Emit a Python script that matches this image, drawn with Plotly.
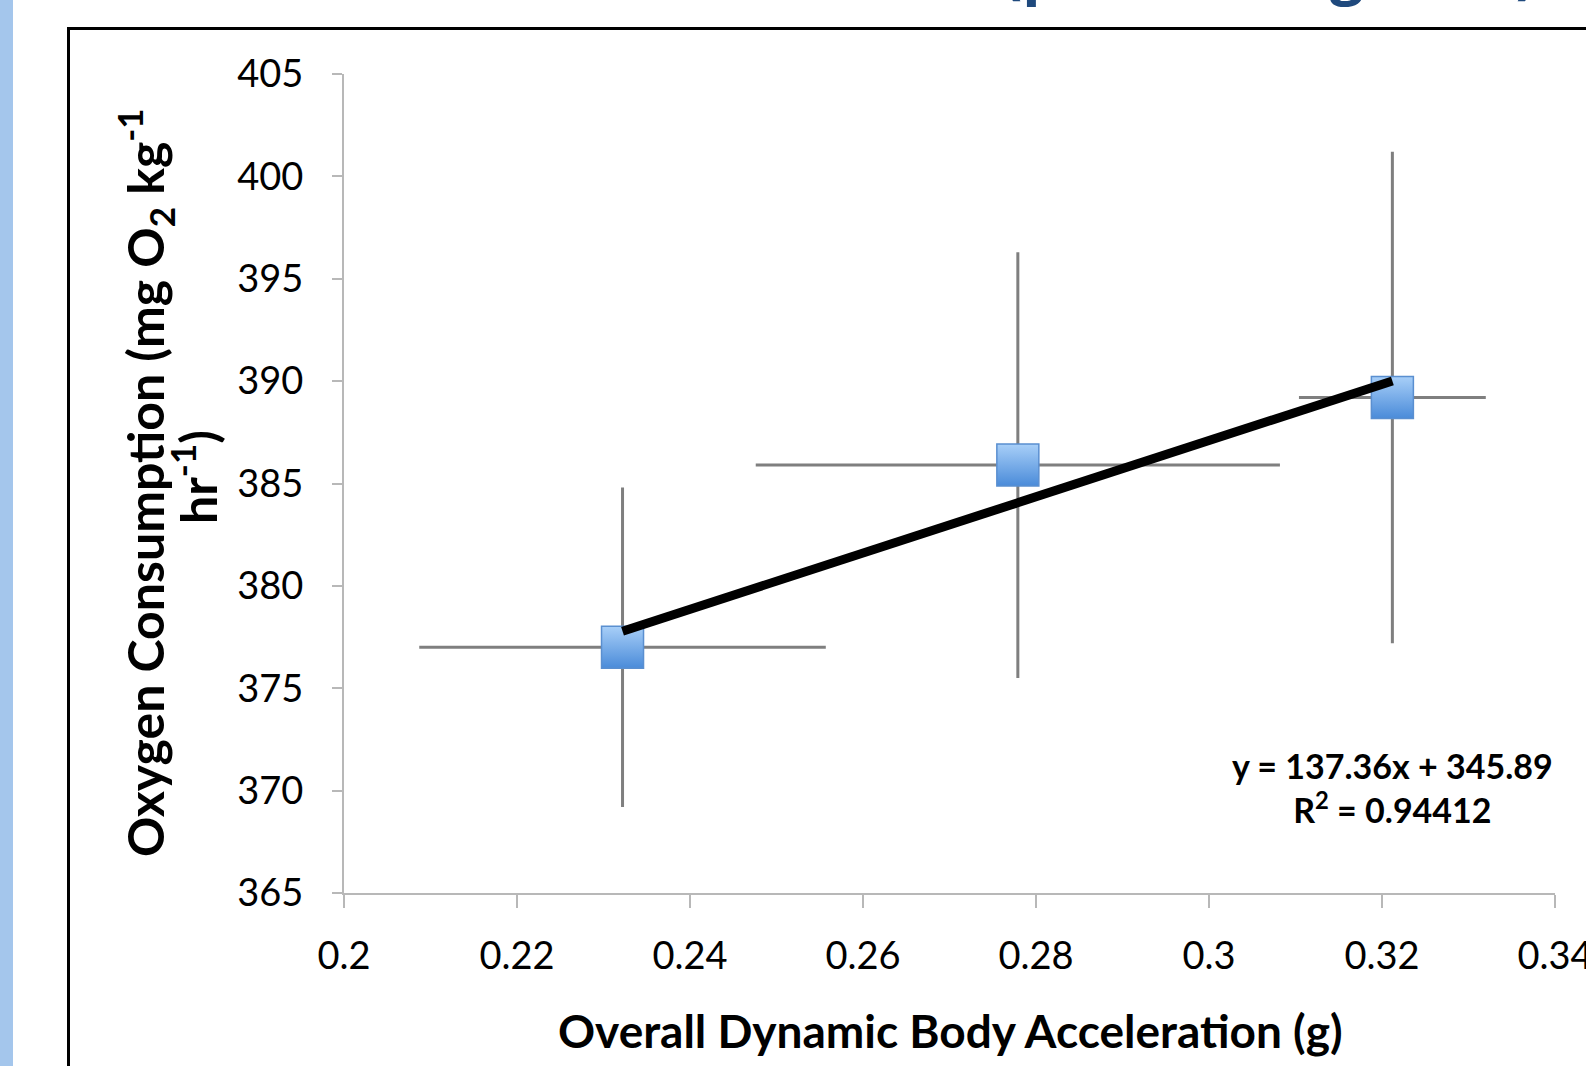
import plotly.graph_objects as go

# ---- data ----
odba = [0.2322, 0.2779, 0.3212]          # Overall Dynamic Body Acceleration (g)
odba_err = [0.0235, 0.0303, 0.0108]
vo2 = [377.0, 385.9, 389.2]              # Oxygen consumption (mg O2 kg-1 hr-1)
vo2_err = [7.8, 10.4, 12.0]
fit_slope = 137.36
fit_intercept = 345.89
fit_r2 = 0.94412

x_tickvals = [0.2, 0.22, 0.24, 0.26, 0.28, 0.30, 0.32, 0.34]
x_ticktext = ["0.2", "0.22", "0.24", "0.26", "0.28", "0.3", "0.32", "0.34"]
y_tickvals = [365, 370, 375, 380, 385, 390, 395, 400, 405]

# ---- geometry (page pixels; body margin is removed below) ----
W, H = 1586, 1066
PLOT_L, PLOT_R, PLOT_T, PLOT_B = 344, 1555, 74, 893
L, T, R, B = PLOT_L, PLOT_T, W - PLOT_R, H - PLOT_B
PW = PLOT_R - PLOT_L
PH = PLOT_B - PLOT_T


def px(xp):
    """page pixel x -> paper x"""
    return (xp - PLOT_L) / PW


def py(yp):
    """page pixel y -> paper y"""
    return (PLOT_B - yp) / PH


FONT = "Lato"
AXIS_GREY = "#b8b8b8"

fig = go.Figure()

fig.add_trace(go.Scatter(
    x=odba, y=vo2, mode="markers",
    error_x=dict(type="data", array=odba_err, color="#7f7f7f", thickness=3, width=0),
    error_y=dict(type="data", array=vo2_err, color="#7f7f7f", thickness=3, width=0),
    marker=dict(symbol="square", size=42, color="#a8cff8",
                gradient=dict(type="vertical", color="#4a8bd9"),
                line=dict(color="#5a8fd0", width=1.5)),
    showlegend=False, hoverinfo="skip",
))

fx = [min(odba), max(odba)]
fy = [fit_slope * v + fit_intercept for v in fx]
fig.add_trace(go.Scatter(
    x=fx, y=fy, mode="lines",
    line=dict(color="black", width=9),
    showlegend=False, hoverinfo="skip",
))

axis_common = dict(
    showline=True, linecolor=AXIS_GREY, linewidth=2,
    ticks="outside", tickcolor=AXIS_GREY, tickwidth=2,
    showgrid=False, zeroline=False, mirror=False,
    ticklabeloverflow="allow",
    tickfont=dict(family=FONT, size=38, color="black"),
)

fig.update_xaxes(range=[0.2, 0.34], tickvals=x_tickvals, ticktext=x_ticktext,
                 ticklen=13, ticklabelstandoff=15, **axis_common)
fig.update_yaxes(range=[365, 405], tickvals=y_tickvals,
                 ticklen=10, ticklabelstandoff=21, **axis_common)

bold_title = dict(family=FONT, size=50, color="black", weight="bold")

annotations = [
    dict(text="Overall Dynamic Body Acceleration (g)", xref="paper", yref="paper",
         x=px(950), y=py(1030), xanchor="center", yanchor="middle", showarrow=False,
         font=dict(family=FONT, size=46, color="black", weight="bold")),
    dict(text="Oxygen Consumption (mg O<sub>2</sub> kg<sup>-1</sup>",
         xref="paper", yref="paper", x=px(145), y=py(483), xanchor="center",
         yanchor="middle", textangle=-90, showarrow=False, font=bold_title),
    dict(text="hr<sup>-1</sup>)",
         xref="paper", yref="paper", x=px(194), y=py(477), xanchor="center",
         yanchor="middle", textangle=-90, showarrow=False, font=bold_title),
    dict(text=f"y = {fit_slope}x + {fit_intercept}<br>R<sup>2</sup> = {fit_r2}",
         xref="paper", yref="paper", x=px(1392), y=py(787), xanchor="center",
         yanchor="middle", showarrow=False, align="center",
         font=dict(family=FONT, size=34, color="black", weight="bold")),
    dict(text="(p < 0.05, Figure 4)", xref="paper", yref="paper",
         x=px(1000), y=py(12), xanchor="left", yanchor="bottom", showarrow=False,
         font=dict(family="Open Sans", size=60, color="#1f497d", weight="bold")),
]

shapes = [
    # light blue band at the left edge
    dict(type="rect", xref="paper", yref="paper", x0=px(-20), x1=px(13),
         y0=py(H + 30), y1=py(-30), fillcolor="#a4c6ec", line=dict(width=0), layer="below"),
    # chart frame (extends past the right and bottom edges)
    dict(type="rect", xref="paper", yref="paper", x0=px(68.5), x1=px(W + 40),
         y0=py(H + 40), y1=py(28.5), fillcolor="rgba(0,0,0,0)",
         line=dict(color="black", width=3), layer="below"),
]

fig.update_layout(
    width=W, height=H,
    margin=dict(l=L, r=R, t=T, b=B, autoexpand=False),
    paper_bgcolor="white", plot_bgcolor="white",
    annotations=annotations, shapes=shapes,
    font=dict(family=FONT),
)

fig.write_html("out.html",
               config={"displayModeBar": False},
               post_script="document.body.style.margin='0';document.body.style.overflow='hidden';")
